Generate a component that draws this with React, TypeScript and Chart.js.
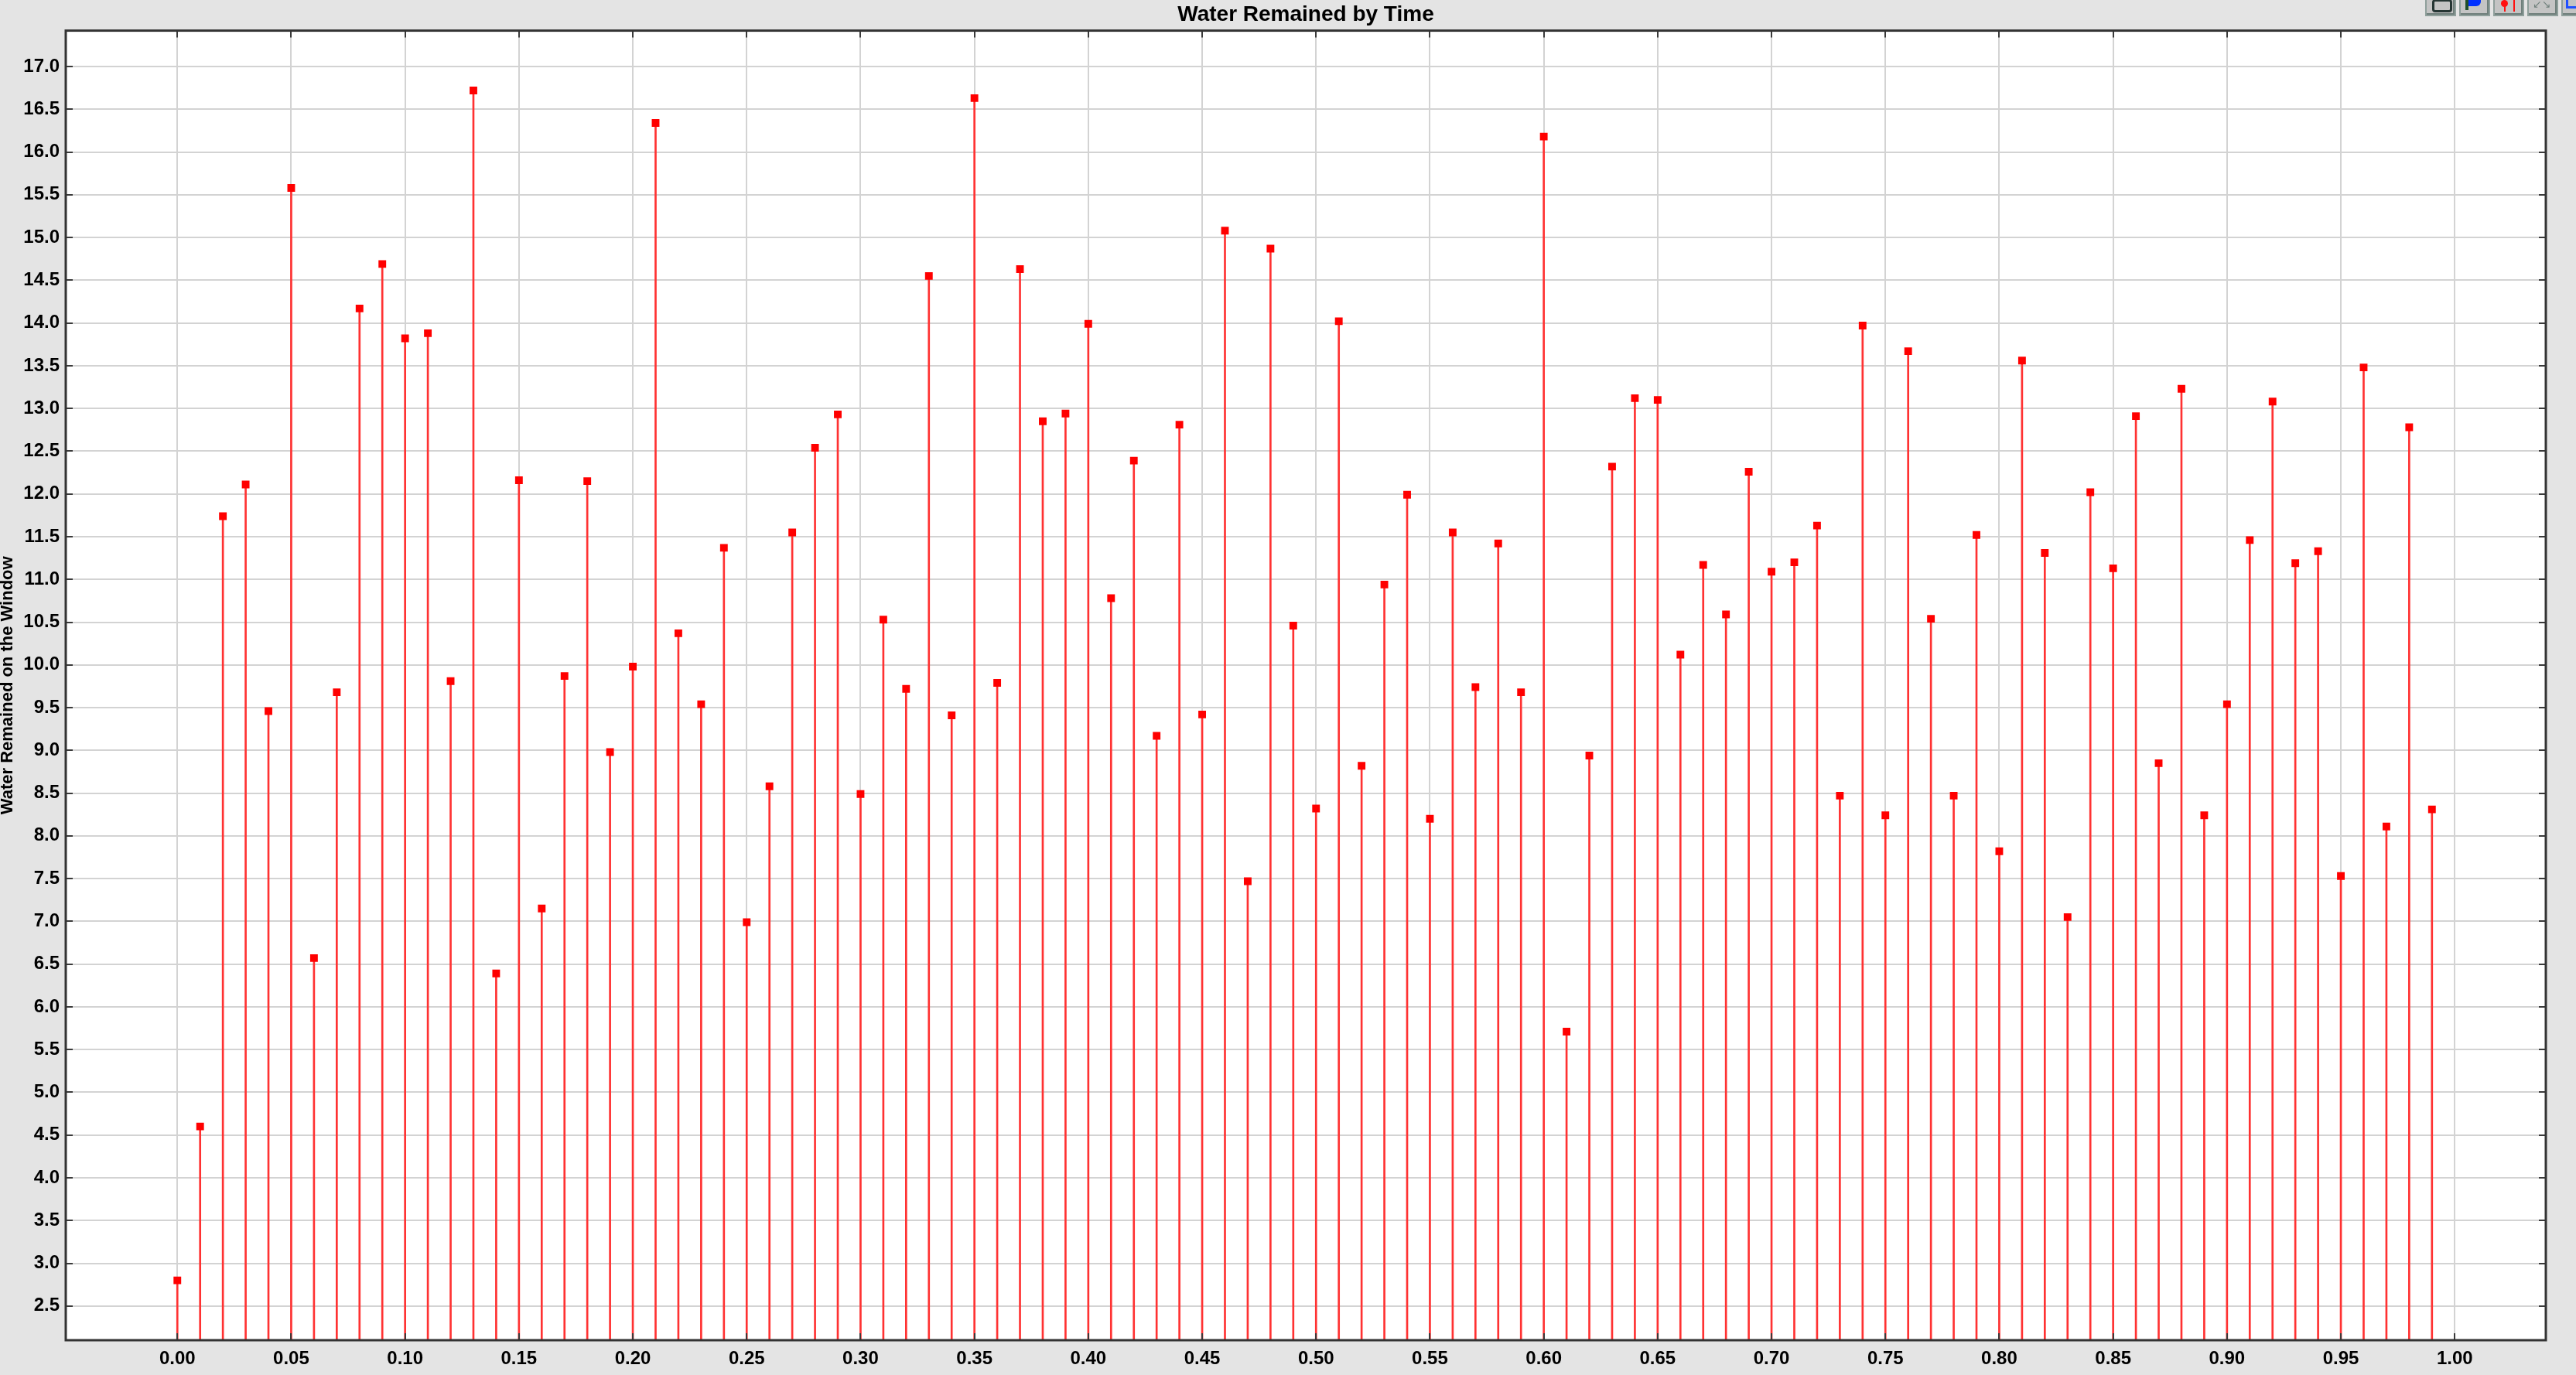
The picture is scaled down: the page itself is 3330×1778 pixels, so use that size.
import { useEffect, useRef } from "react"
import Chart from "chart.js/auto"

const TITLE = "Water Remained by Time"
const Y_LABEL = "Water Remained on the Window"

const TIMES = [
  0.0, 0.01, 0.02, 0.03, 0.04, 0.05, 0.06, 0.07, 0.08, 0.09,
  0.1, 0.11, 0.12, 0.13, 0.14, 0.15, 0.16, 0.17, 0.18, 0.19,
  0.2, 0.21, 0.22, 0.23, 0.24, 0.25, 0.26, 0.27, 0.28, 0.29,
  0.3, 0.31, 0.32, 0.33, 0.34, 0.35, 0.36, 0.37, 0.38, 0.39,
  0.4, 0.41, 0.42, 0.43, 0.44, 0.45, 0.46, 0.47, 0.48, 0.49,
  0.5, 0.51, 0.52, 0.53, 0.54, 0.55, 0.56, 0.57, 0.58, 0.59,
  0.6, 0.61, 0.62, 0.63, 0.64, 0.65, 0.66, 0.67, 0.68, 0.69,
  0.7, 0.71, 0.72, 0.73, 0.74, 0.75, 0.76, 0.77, 0.78, 0.79,
  0.8, 0.81, 0.82, 0.83, 0.84, 0.85, 0.86, 0.87, 0.88, 0.89,
  0.9, 0.91, 0.92, 0.93, 0.94, 0.95, 0.96, 0.97, 0.98, 0.99,
]

const WATER = [
  2.8, 4.6, 11.74, 12.11, 9.46, 15.58, 6.57, 9.68, 14.17, 14.69,
  13.82, 13.88, 9.81, 16.72, 6.39, 12.16, 7.15, 9.87, 12.15, 8.98,
  9.98, 16.34, 10.37, 9.54, 11.37, 6.99, 8.58, 11.55, 12.54, 12.93,
  8.49, 10.53, 9.72, 14.55, 9.41, 16.63, 9.79, 14.63, 12.85, 12.94,
  13.99, 10.78, 12.39, 9.17, 12.81, 9.42, 15.08, 7.47, 14.87, 10.46,
  8.32, 14.02, 8.82, 10.94, 11.99, 8.2, 11.55, 9.74, 11.42, 9.68,
  16.18, 5.71, 8.94, 12.32, 13.12, 13.1, 10.12, 11.17, 10.59, 12.26,
  11.09, 11.2, 11.63, 8.47, 13.97, 8.24, 13.67, 10.54, 8.47, 11.52,
  7.82, 13.56, 11.31, 7.05, 12.02, 11.13, 12.91, 8.85, 13.23, 8.24,
  9.54, 11.46, 13.08, 11.19, 11.33, 7.53, 13.48, 8.11, 12.78, 8.31,
]

const X_MIN = -0.049
const X_MAX = 1.04
const X_STEP = 0.05
const Y_MIN = 2.1
const Y_MAX = 17.42
const Y_STEP = 0.5

const FONT = "'Liberation Sans', Arial, Helvetica, sans-serif"

// white plot area behind the grid
const plotBackground = {
  id: "plotBackground",
  beforeDraw(chart: any) {
    const { ctx, chartArea: a } = chart
    ctx.save()
    ctx.fillStyle = "#ffffff"
    ctx.fillRect(a.left, a.top, a.right - a.left, a.bottom - a.top)
    ctx.restore()
  },
}

// frame around the plot with tick marks pointing inward on all four sides
const innerFrame = {
  id: "innerFrame",
  afterDatasetsDraw(chart: any) {
    const { ctx, chartArea: a, scales } = chart
    const len = 9
    ctx.save()
    ctx.strokeStyle = "#3a3a3a"
    ctx.lineWidth = 2
    ctx.beginPath()
    scales.x.ticks.forEach((t: any) => {
      const px = Math.round(scales.x.getPixelForValue(t.value))
      ctx.moveTo(px, a.top)
      ctx.lineTo(px, a.top + len)
      ctx.moveTo(px, a.bottom)
      ctx.lineTo(px, a.bottom - len)
    })
    scales.y.ticks.forEach((t: any) => {
      const py = Math.round(scales.y.getPixelForValue(t.value))
      ctx.moveTo(a.left, py)
      ctx.lineTo(a.left + len, py)
      ctx.moveTo(a.right, py)
      ctx.lineTo(a.right - len, py)
    })
    ctx.stroke()
    ctx.lineWidth = 3
    ctx.strokeStyle = "#333333"
    ctx.strokeRect(a.left, a.top, a.right - a.left, a.bottom - a.top)
    ctx.restore()
  },
}

function WaterChart() {
  const chartRef = useRef<HTMLCanvasElement>(null)
  const chartInstance = useRef<Chart | null>(null)

  useEffect(() => {
    document.body.style.margin = "0"
    document.body.style.overflow = "hidden"

    if (chartRef.current) {
      if (chartInstance.current) {
        chartInstance.current.destroy()
      }

      const ctx = chartRef.current.getContext("2d")

      if (ctx) {
        const points = TIMES.map((t, i) => ({ x: t, y: WATER[i] }))

        chartInstance.current = new Chart(ctx, {
          type: "scatter",
          data: {
            datasets: [
              {
                type: "scatter",
                label: "markers",
                data: points,
                pointStyle: "rect",
                pointRadius: 7,
                pointBorderWidth: 0,
                backgroundColor: "#ff0000",
                borderColor: "#ff0000",
              },
              {
                type: "bar",
                label: "stems",
                data: points,
                backgroundColor: "rgb(255, 50, 50)",
                borderWidth: 0,
                barThickness: 2,
                grouped: false,
              } as any,
            ],
          },
          options: {
            responsive: false,
            animation: false,
            devicePixelRatio: 1,
            layout: {
              padding: { left: 0, right: 39, top: 0, bottom: 0 },
            },
            plugins: {
              legend: { display: false },
              tooltip: { enabled: false },
              title: {
                display: true,
                text: TITLE,
                color: "#000000",
                fullSize: false,
                font: { family: FONT, size: 28, weight: "bold" },
                padding: { top: 2, bottom: 4 },
              },
            },
            scales: {
              x: {
                type: "linear",
                min: X_MIN,
                max: X_MAX,
                offset: false,
                afterFit: (scale: any) => {
                  scale.height = 45
                },
                border: { display: false },
                grid: {
                  color: "#d3d3d3",
                  lineWidth: 2,
                  drawTicks: false,
                  offset: false,
                },
                ticks: {
                  stepSize: X_STEP,
                  includeBounds: false,
                  autoSkip: false,
                  maxRotation: 0,
                  padding: 10,
                  color: "#000000",
                  font: { family: FONT, size: 24, weight: "bold" },
                  callback: (v: any) => Number(v).toFixed(2),
                },
              },
              y: {
                type: "linear",
                min: Y_MIN,
                max: Y_MAX,
                afterFit: (scale: any) => {
                  scale.width = 85
                },
                border: { display: false },
                grid: {
                  color: "#d3d3d3",
                  lineWidth: 2,
                  drawTicks: false,
                },
                ticks: {
                  stepSize: Y_STEP,
                  includeBounds: false,
                  autoSkip: false,
                  padding: 8,
                  color: "#000000",
                  font: { family: FONT, size: 24, weight: "bold" },
                  callback: (v: any) => Number(v).toFixed(1),
                },
                title: {
                  display: true,
                  text: Y_LABEL,
                  color: "#000000",
                  padding: 0,
                  font: { family: FONT, size: 22, weight: "bold", lineHeight: 0.86 },
                },
              },
            },
          },
          plugins: [plotBackground, innerFrame],
        })
      }
    }

    return () => {
      if (chartInstance.current) {
        chartInstance.current.destroy()
        chartInstance.current = null
      }
    }
  }, [])

  return <canvas ref={chartRef} width={3330} height={1778} style={{ display: "block" }} />
}

// small toolbar buttons in the top-right corner
function Toolbar() {
  const btn = (left: number, child: any) => (
    <div
      key={left}
      style={{
        position: "absolute",
        left,
        top: -6,
        width: 36,
        height: 25,
        background: "#c4c4c4",
        border: "2px solid #8f9f9b",
        borderTop: "none",
        boxShadow: "inset -2px -2px 0 #6f7f7b",
        overflow: "hidden",
      }}
    >
      {child}
    </div>
  )
  return (
    <>
      {btn(
        3135,
        <div style={{ position: "absolute", left: 7, top: 5, width: 20, height: 11, border: "3px solid #263634", borderRadius: 4 }} />
      )}
      {btn(
        3179,
        <>
          <div style={{ position: "absolute", left: 6, top: 0, width: 4, height: 19, background: "#1f4f2a" }} />
          <div style={{ position: "absolute", left: 10, top: 0, width: 16, height: 14, background: "#0030ff", borderRadius: "0 0 6px 0" }} />
        </>
      )}
      {btn(
        3223,
        <>
          <div style={{ position: "absolute", left: 8, top: 6, width: 9, height: 9, background: "#ff1010", borderRadius: "50%" }} />
          <div style={{ position: "absolute", left: 12, top: 12, width: 2, height: 9, background: "#ff1010" }} />
          <div style={{ position: "absolute", left: 24, top: 0, width: 2, height: 21, background: "#ff1010" }} />
        </>
      )}
      {btn(
        3267,
        <div style={{ position: "absolute", left: 5, top: 3, fontSize: 14, color: "#6f7f7b", fontFamily: "DejaVu Sans" }}>↙↘</div>
      )}
      {btn(
        3311,
        <div style={{ position: "absolute", left: 4, top: 0, width: 12, height: 14, border: "3px solid #2050ff", borderTop: "none" }} />
      )}
    </>
  )
}

export default function App() {
  return (
    <div
      style={{
        position: "fixed",
        left: 0,
        top: 0,
        width: 3330,
        height: 1778,
        background: "#e4e4e4",
        overflow: "hidden",
      }}
    >
      <WaterChart />
      <Toolbar />
    </div>
  )
}
